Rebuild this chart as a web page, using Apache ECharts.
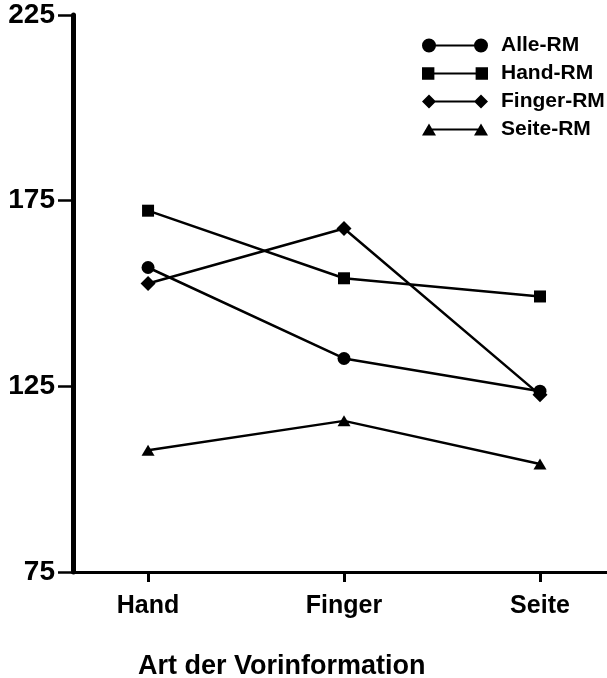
<!DOCTYPE html>
<html>
<head>
<meta charset="utf-8">
<script src="https://cdn.jsdelivr.net/npm/echarts@6/dist/echarts.min.js"></script>
<style>
  html, body { margin: 0; padding: 0; background: #fff; }
  #chart { width: 607px; height: 678px; }
</style>
</head>
<body>
<div id="chart"></div>
<script>
// Categories on the x axis and mean values per condition
const categories = ['Hand', 'Finger', 'Seite'];
const alleRM   = [157.0, 132.5, 123.7];
const handRM   = [172.3, 154.1, 149.2];
const fingerRM = [152.7, 167.5, 122.7];
const seiteRM  = [107.8, 115.7, 104.1];
const yTicks = [75, 125, 175, 225];
const xTitle = 'Art der Vorinformation';

const FONT = '"Liberation Sans", Arial, sans-serif';

// Legend icons: a line with the marker at each end
const legendIcons = {
  circle:   'path://M7,6L59,6L59,8L7,8Z M0,7A7,7 0 1 1 14,7A7,7 0 1 1 0,7Z M52,7A7,7 0 1 1 66,7A7,7 0 1 1 52,7Z',
  rect:     'path://M7,6L59,6L59,8L7,8Z M1,1L13,1L13,13L1,13Z M53,1L65,1L65,13L53,13Z',
  diamond:  'path://M7,6L59,6L59,8L7,8Z M7,0L14,7L7,14L0,7Z M59,0L66,7L59,14L52,7Z',
  triangle: 'path://M7,6L59,6L59,8L7,8Z M0,13L7,1L14,13Z M52,13L59,1L66,13Z'
};

function toPoints(values) {
  return values.map((v, i) => [i + 1, v]);
}

function makeSeries(name, values, symbol, size) {
  return {
    name: name,
    type: 'line',
    data: toPoints(values),
    symbol: symbol,
    symbolSize: size,
    showAllSymbol: true,
    lineStyle: { color: '#000', width: 2.5 },
    itemStyle: { color: '#000' },
    emphasis: { disabled: true },
    animation: false,
    z: 3
  };
}

const chart = echarts.init(document.getElementById('chart'), null, { renderer: 'canvas' });

chart.setOption({
  backgroundColor: '#fff',
  animation: false,
  grid: { left: 73, right: 0, top: 15, bottom: 106, containLabel: false },
  title: {
    text: xTitle,
    left: 138,
    top: 653,
    padding: 0,
    textStyle: { fontFamily: FONT, fontWeight: 'bold', fontSize: 27, color: '#000' }
  },
  legend: {
    orient: 'vertical',
    left: 422,
    top: 35,
    padding: 0,
    itemWidth: 66,
    itemHeight: 14,
    itemGap: 7,
    textStyle: { fontFamily: FONT, fontWeight: 'bold', fontSize: 21, color: '#000', padding: [0, 0, 0, 8] },
    selectedMode: false,
    data: [
      { name: 'Alle-RM',   icon: legendIcons.circle },
      { name: 'Hand-RM',   icon: legendIcons.rect },
      { name: 'Finger-RM', icon: legendIcons.diamond },
      { name: 'Seite-RM',  icon: legendIcons.triangle }
    ]
  },
  xAxis: {
    type: 'value',
    min: 0.617,
    max: 3.342,
    axisLine: { show: true, lineStyle: { color: '#000', width: 3 } },
    axisTick: { show: true, customValues: [1, 2, 3], length: 10, lineStyle: { color: '#000', width: 3 } },
    axisLabel: {
      customValues: [1, 2, 3],
      formatter: v => categories[Math.round(v) - 1] || '',
      margin: 22,
      fontFamily: FONT, fontWeight: 'bold', fontSize: 25, color: '#000'
    },
    splitLine: { show: false }
  },
  yAxis: {
    type: 'value',
    min: 75,
    max: 225,
    axisLine: { show: true, lineStyle: { color: '#000', width: 5 } },
    axisTick: { show: true, customValues: yTicks, length: 15, lineStyle: { color: '#000', width: 2.5 } },
    axisLabel: {
      customValues: yTicks,
      margin: 18,
      fontFamily: FONT, fontWeight: 'bold', fontSize: 28, color: '#000'
    },
    splitLine: { show: false }
  },
  series: [
    makeSeries('Alle-RM',   alleRM,   'circle',   13),
    makeSeries('Hand-RM',   handRM,   'rect',     12),
    makeSeries('Finger-RM', fingerRM, 'diamond',  15),
    makeSeries('Seite-RM',  seiteRM,  'triangle', [13, 11])
  ]
});
</script>
</body>
</html>
